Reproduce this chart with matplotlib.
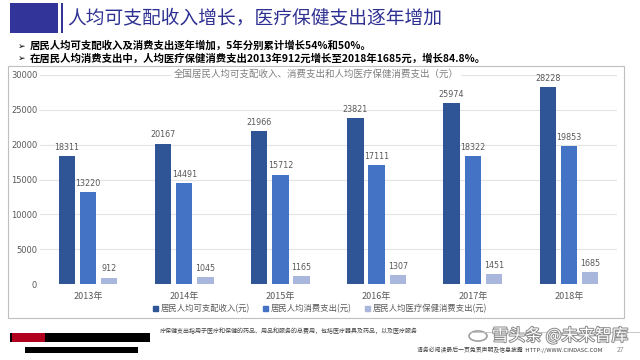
import matplotlib
matplotlib.use("Agg")
import matplotlib.pyplot as plt
from matplotlib.patches import Rectangle, Circle
import matplotlib.patheffects as pe
import numpy as np

plt.rcParams['font.family'] = ['Noto Sans CJK SC', 'DejaVu Sans']

years = ["2013年", "2014年", "2015年", "2016年", "2017年", "2018年"]
income = [18311, 20167, 21966, 23821, 25974, 28228]
consumption = [13220, 14491, 15712, 17111, 18322, 19853]
medical = [912, 1045, 1165, 1307, 1451, 1685]
series_names = ["居民人均可支配收入(元)", "居民人均消费支出(元)", "居民人均医疗保健消费支出(元)"]
colors = ["#2F5597", "#4472C4", "#A9B7DD"]

W, H = 640, 360
fig = plt.figure(figsize=(6.4, 3.6), dpi=100)
fig.patch.set_facecolor("white")

def fx(x):
    return x / W

def fy(y):
    return 1 - y / H

def frect(x0, y0, x1, y1, **kw):
    r = Rectangle((fx(x0), fy(y1)), fx(x1) - fx(x0), fy(y0) - fy(y1),
                  transform=fig.transFigure, **kw)
    fig.add_artist(r)
    return r

# Header
frect(10, 3, 58, 33, facecolor="#33349A", edgecolor="none")
frect(61, 3, 63, 33, facecolor="#33349A", edgecolor="none")
fig.text(fx(67), fy(18), "人均可支配收入增长，医疗保健支出逐年增加", fontsize=13.5,
         color="#2E3192", va="center", ha="left")

# Bullets
fig.text(fx(18), fy(46), "➢", fontsize=6.5, va="center", ha="left", color="black")
fig.text(fx(30), fy(46), "居民人均可支配收入及消费支出逐年增加，5年分别累计增长54%和50%。",
         fontsize=7.5, fontweight="bold", va="center", ha="left", color="black")
fig.text(fx(18), fy(58.5), "➢", fontsize=6.5, va="center", ha="left", color="black")
fig.text(fx(30), fy(58.5), "在居民人均消费支出中，人均医疗保健消费支出2013年912元增长至2018年1685元，增长84.8%。",
         fontsize=7.5, fontweight="bold", va="center", ha="left", color="black")

# Chart frame
frect(8, 66, 624, 318, facecolor="none", edgecolor="#BFBFBF", linewidth=0.8)

# Axes
ax = fig.add_axes([fx(40), fy(284), fx(617) - fx(40), fy(75) - fy(284)])
x = np.arange(len(years))
bw = 0.17
off = 0.22
series = [income, consumption, medical]
for i, (vals, c) in enumerate(zip(series, colors)):
    bars = ax.bar(x + (i - 1) * off, vals, width=bw, color=c, zorder=3, label=series_names[i])
    for b, v in zip(bars, vals):
        ax.annotate(str(v), (b.get_x() + b.get_width() / 2, v), xytext=(0, 3),
                    textcoords="offset points", ha="center", va="bottom",
                    fontsize=5.8, color="#595959", family="DejaVu Sans")

ax.set_xlim(-0.5, 5.5)
ax.set_ylim(0, 30000)
ax.set_yticks(range(0, 30001, 5000))
ax.set_yticklabels([str(v) for v in range(0, 30001, 5000)], fontsize=6, color="#595959",
                   family="DejaVu Sans")
ax.set_xticks(x)
ax.set_xticklabels(years, fontsize=6.5, color="#595959")
ax.tick_params(axis="both", length=0)
ax.tick_params(axis="x", pad=6)
ax.tick_params(axis="y", pad=2)
ax.grid(axis="y", color="#E3E3E3", linewidth=0.8, zorder=0)
for s in ax.spines.values():
    s.set_visible(False)
ax.set_facecolor("none")

# Chart title
fig.text(fx(316), fy(74), "全国居民人均可支配收入、消费支出和人均医疗保健消费支出（元）",
         fontsize=6.8, color="#7F7F7F", ha="center", va="center",
         bbox=dict(facecolor="white", edgecolor="none", pad=1.5), zorder=5)

# Legend
handles = [Rectangle((0, 0), 1, 1, color=c) for c in colors]
fig.legend(handles, series_names, loc="center", bbox_to_anchor=(fx(320), fy(309)),
           ncol=3, frameon=False, fontsize=6.0, handlelength=0.6, handleheight=0.6,
           handletextpad=0.4, columnspacing=1.5, labelcolor="#595959")

# Footer
frect(10, 333, 150, 342, facecolor="black", edgecolor="none")
frect(12, 333, 45, 342, facecolor="#B0001E", edgecolor="none")
frect(25, 347, 138, 353, facecolor="black", edgecolor="none")
fig.text(fx(160), fy(331), "疗保健支出指用于医疗和保健的药品、用品和服务的总费用，包括医疗器具及药品，以及医疗服务",
         fontsize=4.3, style="italic", color="#404040", ha="left", va="center")
fig.add_artist(plt.Line2D([fx(470), fx(640)], [fy(332), fy(332)], transform=fig.transFigure,
                          color="#BFBFBF", linewidth=0.6))
fig.text(fx(417), fy(350), "请务必阅读最后一页免责声明及信息披露  HTTP://WWW.CINDASC.COM",
         fontsize=4.2, color="#404040", ha="left", va="center")
fig.text(fx(621), fy(350), "27", fontsize=5, color="#8C8C8C", ha="center", va="center")

# Watermark
fig.add_artist(Circle((fx(478), fy(336)), 9 / W, transform=fig.transFigure,
                      facecolor="none", edgecolor="#A0A0A0", linewidth=1.2))
wm = fig.text(fx(492), fy(336), "雪头条 @未来智库", fontsize=12, color="white",
              ha="left", va="center")
wm.set_path_effects([pe.withStroke(linewidth=1.4, foreground="#8A8A8A")])

fig.savefig("out.png", dpi=100)
